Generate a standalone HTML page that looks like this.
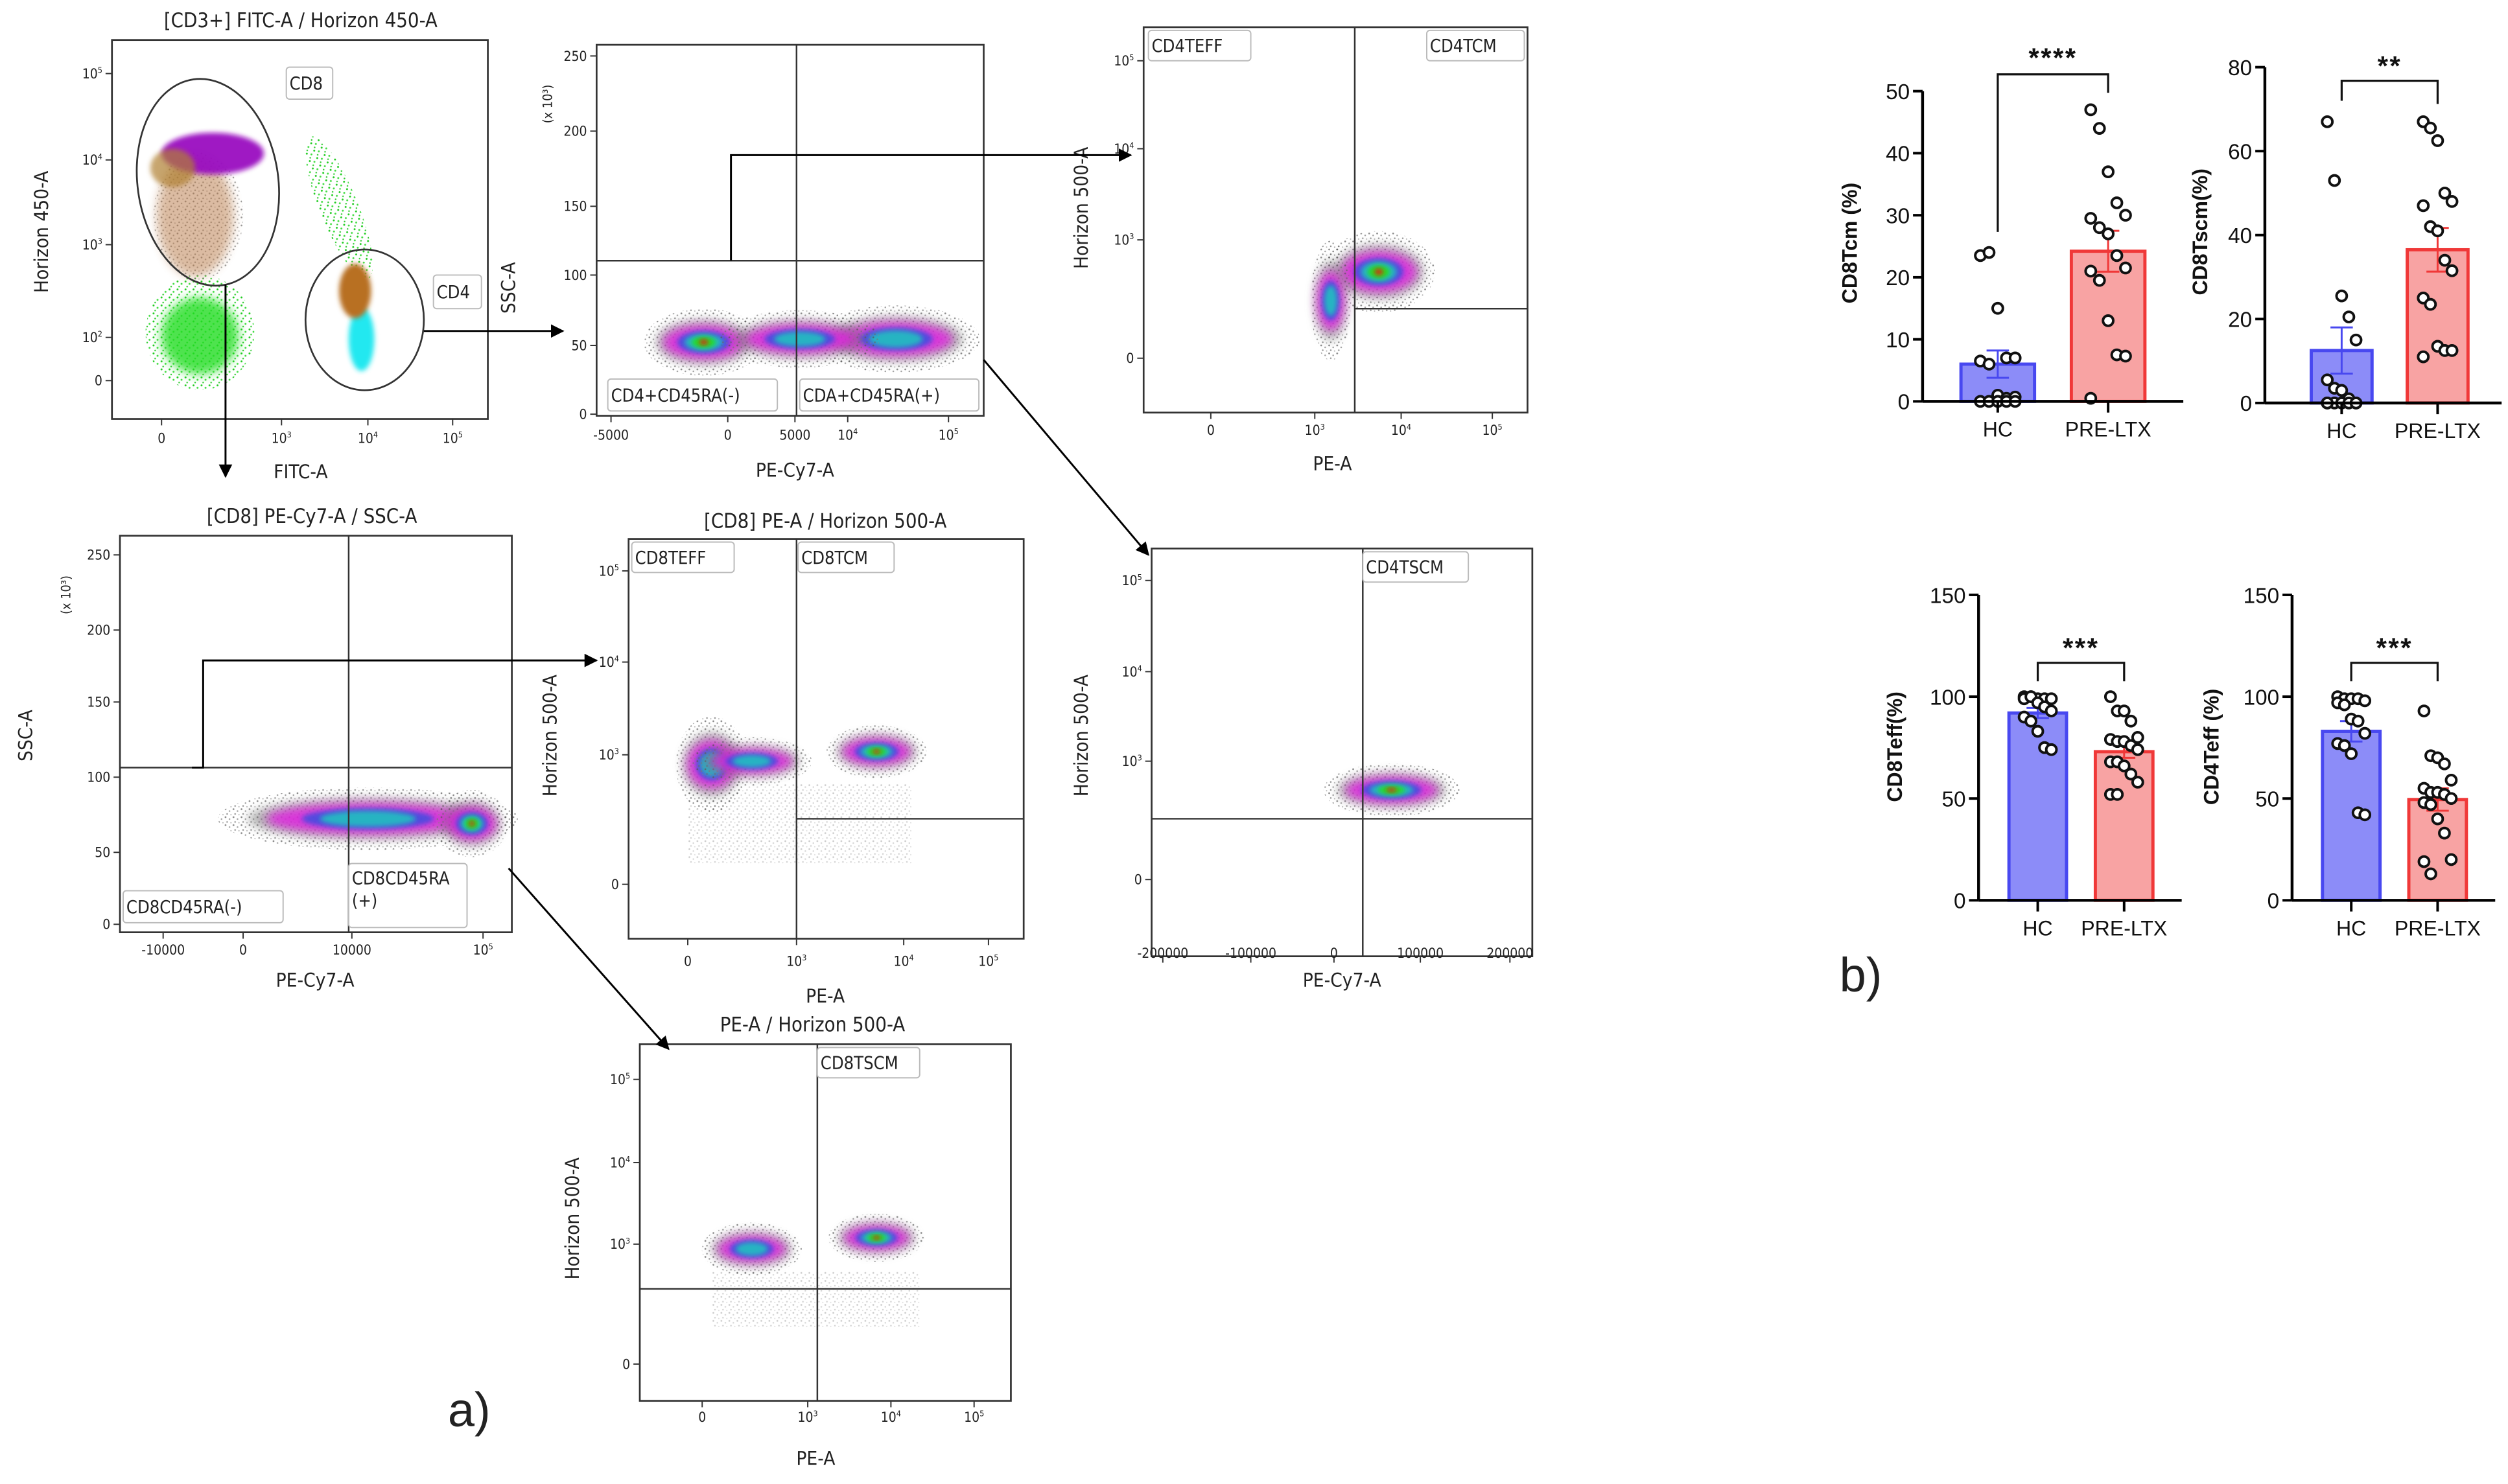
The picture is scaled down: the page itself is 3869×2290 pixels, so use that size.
<!DOCTYPE html>
<html><head><meta charset="utf-8">
<style>
html,body{margin:0;padding:0;background:#fff;}
svg{display:block;}
text{font-family:"Liberation Sans",sans-serif;}
.fl{font-family:"DejaVu Sans Condensed","Liberation Sans",sans-serif;}
</style></head>
<body>
<svg id="fig" xmlns="http://www.w3.org/2000/svg" width="3869" height="2290" viewBox="0 0 1568 928" preserveAspectRatio="none">
<defs>
<filter id="bl" x="-50%" y="-50%" width="200%" height="200%"><feGaussianBlur stdDeviation="3"/></filter>
<filter id="bl2" x="-50%" y="-50%" width="200%" height="200%"><feGaussianBlur stdDeviation="1.5"/></filter>
<pattern id="speck" width="5" height="5" patternUnits="userSpaceOnUse">
<circle cx="1" cy="1" r="0.55" fill="#555"/><circle cx="3.5" cy="2.2" r="0.5" fill="#777"/><circle cx="2" cy="4" r="0.5" fill="#666"/><circle cx="4.4" cy="4.5" r="0.4" fill="#888"/>
</pattern>
<pattern id="gspeck" width="5" height="5" patternUnits="userSpaceOnUse">
<circle cx="1" cy="1" r="0.6" fill="#2c2"/><circle cx="3.5" cy="2.5" r="0.6" fill="#4d4"/><circle cx="2" cy="4.2" r="0.5" fill="#3c3"/>
</pattern>
<marker id="ah" viewBox="0 0 10 10" refX="9" refY="5" markerWidth="7" markerHeight="7" orient="auto-start-reverse"><path d="M0,0 L10,5 L0,10 z" fill="#000"/></marker>
</defs>
</svg>
<script>
const NS='http://www.w3.org/2000/svg';
const svg=document.getElementById('fig');
function mk(tag,attrs,parent){const e=document.createElementNS(NS,tag);for(const k in attrs)e.setAttribute(k,attrs[k]);(parent||svg).appendChild(e);return e;}
function supText(g,str,x,y,size,anchor){
  const t=mk('text',{x:x,y:y,'font-size':size,'text-anchor':anchor,class:'fl',fill:'#222'},g);
  if(str.indexOf('^')>=0){const p=str.split('^');const a=mk('tspan',{},t);a.textContent=p[0];const b=mk('tspan',{'font-size':size*0.6,dy:-size*0.4},t);b.textContent=p[1];}
  else t.textContent=str;
  return t;
}

/* ---------------- Flow cytometry panels ---------------- */
const panels=[
 {name:'cd3-plot',box:[70,25,305,262],title:'[CD3+] FITC-A / Horizon 450-A',tx:188,ty:17,ylab:'Horizon 450-A',yx:30,yy:145,xlab:'FITC-A',xx:188,xy:299,
  yt:[['10^5',46],['10^4',100],['10^3',153],['10^2',211],['0',238]],xt:[['0',101],['10^3',176],['10^4',230],['10^5',283]],xly:277},
 {name:'cd4-ssc-plot',box:[373,28,615,260],title:'',ylab:'SSC-A',yx:322,yy:180,xlab:'PE-Cy7-A',xx:497,xy:298,unit:[345,65],
  yt:[['250',35],['200',82],['150',129],['100',172],['50',216],['0',259]],xt:[['-5000',382],['0',455],['5000',497],['10^4',530],['10^5',593]],xly:275},
 {name:'cd4-pe-plot',box:[715,17,955,258],title:'',ylab:'Horizon 500-A',yx:680,yy:130,xlab:'PE-A',xx:833,xy:294,
  yt:[['10^5',38],['10^4',93],['10^3',150],['0',224]],xt:[['0',757],['10^3',822],['10^4',876],['10^5',933]],xly:272},
 {name:'cd8-ssc-plot',box:[75,335,320,583],title:'[CD8] PE-Cy7-A / SSC-A',tx:195,ty:327,ylab:'SSC-A',yx:20,yy:460,xlab:'PE-Cy7-A',xx:197,xy:617,unit:[44,372],
  yt:[['250',347],['200',394],['150',439],['100',486],['50',533],['0',578]],xt:[['-10000',102],['0',152],['10000',220],['10^5',302]],xly:597},
 {name:'cd8-pe-plot',box:[393,337,640,587],title:'[CD8] PE-A / Horizon 500-A',tx:516,ty:330,ylab:'Horizon 500-A',yx:348,yy:460,xlab:'PE-A',xx:516,xy:627,
  yt:[['10^5',357],['10^4',414],['10^3',472],['0',553]],xt:[['0',430],['10^3',498],['10^4',565],['10^5',618]],xly:604},
 {name:'cd4-tscm-plot',box:[720,343,958,598],title:'',ylab:'Horizon 500-A',yx:680,yy:460,xlab:'PE-Cy7-A',xx:839,xy:617,
  yt:[['10^5',363],['10^4',420],['10^3',476],['0',550]],xt:[['-200000',727],['-100000',782],['0',834],['100000',888],['200000',944]],xly:599},
 {name:'cd8-tscm-plot',box:[400,653,632,876],title:'PE-A / Horizon 500-A',tx:508,ty:645,ylab:'Horizon 500-A',yx:362,yy:762,xlab:'PE-A',xx:510,xy:916,
  yt:[['10^5',675],['10^4',727],['10^3',778],['0',853]],xt:[['0',439],['10^3',505],['10^4',557],['10^5',609]],xly:889}
];

function blob(g,cx,cy,rx,ry,core){
  const b=mk('g',{},g);
  
  
  mk('ellipse',{cx:cx,cy:cy,rx:rx*1.25,ry:ry*1.5,fill:'url(#speck)',opacity:0.7},b);
  mk('ellipse',{cx:cx,cy:cy,rx:rx,ry:ry,fill:'#777',opacity:0.55,filter:'url(#bl)'},b);
  mk('ellipse',{cx:cx,cy:cy,rx:rx*0.85,ry:ry*0.75,fill:'#e020e0',opacity:0.85,filter:'url(#bl)'},b);
  mk('ellipse',{cx:cx,cy:cy,rx:rx*0.55,ry:ry*0.5,fill:'#3050e0',opacity:0.8,filter:'url(#bl2)'},b);
  mk('ellipse',{cx:cx,cy:cy,rx:rx*0.4,ry:ry*0.38,fill:'#20c0c0',opacity:0.9,filter:'url(#bl2)'},b);
  if(core){mk('ellipse',{cx:cx,cy:cy,rx:rx*0.25,ry:ry*0.25,fill:'#20e020',filter:'url(#bl2)'},b);
  mk('ellipse',{cx:cx,cy:cy,rx:rx*0.1,ry:ry*0.12,fill:'#e02010',filter:'url(#bl2)'},b);}
}

panels.forEach(p=>{
  const g=mk('g',{});
  
  
  const [x1,y1,x2,y2]=p.box;
  if(p.title){const t=mk('text',{x:p.tx,y:p.ty,'font-size':12.5,'text-anchor':'middle',class:'fl',fill:'#222'},g);t.textContent=p.title;
    }
  const r=mk('rect',{x:x1,y:y1,width:x2-x1,height:y2-y1,fill:'#fff',stroke:'#333','stroke-width':1.1},g);
  
  p.yt.forEach(([l,y])=>{mk('line',{x1:x1-4,y1:y,x2:x1,y2:y,stroke:'#333','stroke-width':0.8},g);
    const t=supText(g,l,x1-6,y+3,8.5,'end');});
  p.xt.forEach(([l,x])=>{mk('line',{x1:x,y1:y2,x2:x,y2:y2+4,stroke:'#333','stroke-width':0.8},g);
    const t=supText(g,l,x,p.xly,8.5,'middle');});
  const yl=mk('text',{x:p.yx,y:p.yy,'font-size':12,'text-anchor':'middle',class:'fl',fill:'#222',transform:`rotate(-90 ${p.yx} ${p.yy})`},g);
  yl.textContent=p.ylab;
  const xl=mk('text',{x:p.xx,y:p.xy,'font-size':12,'text-anchor':'middle',class:'fl',fill:'#222'},g);
  xl.textContent=p.xlab;
  if(p.unit){const u=mk('text',{x:p.unit[0],y:p.unit[1],'font-size':8,'text-anchor':'middle',class:'fl',fill:'#222',transform:`rotate(-90 ${p.unit[0]} ${p.unit[1]})`},g);
    u.textContent='(x 10³)';}
  p.g=g;
});

function qline(g,x1,y1,x2,y2){const l=mk('line',{x1:x1,y1:y1,x2:x2,y2:y2,stroke:'#333','stroke-width':1},g);
  }
function gateLabel(g,x,y,w,h,txt,txt2){
  const gg=mk('g',{},g);
  
  
  mk('rect',{x:x,y:y,width:w,height:h,rx:2,fill:'#fff',stroke:'#bbb','stroke-width':0.8},gg);
  const t=mk('text',{x:x+2,y:y+h*0.5+4,'font-size':11,class:'fl',fill:'#222'},gg);t.textContent=txt;
  if(txt2){t.setAttribute('y',y+13);const t2=mk('text',{x:x+2,y:y+27,'font-size':11,class:'fl',fill:'#222'},gg);t2.textContent=txt2;}
}
function arrow(pts){const a=mk('polyline',{points:pts,fill:'none',stroke:'#000','stroke-width':1.2,'marker-end':'url(#ah)'});
  }

/* panel 1 content */
{const g=panels[0].g;
 const s=mk('g',{},g);
 mk('ellipse',{cx:125,cy:208,rx:34,ry:36,fill:'url(#gspeck)'},s);
 mk('ellipse',{cx:125,cy:210,rx:24,ry:24,fill:'#22dd22',opacity:0.8,filter:'url(#bl)'},s);
 mk('ellipse',{cx:212,cy:130,rx:12,ry:48,fill:'url(#gspeck)',transform:'rotate(-22 212 130)'},s);
 mk('ellipse',{cx:124,cy:135,rx:28,ry:40,fill:'url(#speck)',opacity:0.6},s);
 mk('ellipse',{cx:122,cy:135,rx:24,ry:38,fill:'#b06a30',opacity:0.45,filter:'url(#bl)'},s);
 mk('ellipse',{cx:133,cy:96,rx:32,ry:13,fill:'#9a10c0',opacity:0.95,filter:'url(#bl2)'},s);
 mk('ellipse',{cx:108,cy:105,rx:14,ry:12,fill:'#b08030',opacity:0.7,filter:'url(#bl2)'},s);
 mk('ellipse',{cx:226,cy:212,rx:8,ry:20,fill:'#20e8f0',filter:'url(#bl2)'},s);
 mk('ellipse',{cx:222,cy:182,rx:10,ry:17,fill:'#b87020',filter:'url(#bl2)'},s);
 const e1=mk('ellipse',{cx:130,cy:114,rx:44,ry:65,fill:'none',stroke:'#333','stroke-width':1.1,transform:'rotate(-8 130 114)'},g);
 
 const e2=mk('ellipse',{cx:228,cy:200,rx:37,ry:44,fill:'none',stroke:'#333','stroke-width':1.1},g);
 
 gateLabel(g,179,42,29,20,'CD8');gateLabel(g,271,172,30,21,'CD4');}
/* panel 2 */
{const g=panels[1].g;blob(g,440,214,30,14,true);blob(g,560,212,42,14,false);blob(g,500,212,40,12,false);
 qline(g,498,28,498,260);qline(g,373,163,615,163);
 gateLabel(g,380,237,106,20,'CD4+CD45RA(-)');gateLabel(g,500,237,112,20,'CDA+CD45RA(+)');}
/* panel 3 */
{const g=panels[2].g;blob(g,862,170,28,17,true);blob(g,832,188,10,25,false);
 qline(g,847,17,847,258);qline(g,847,193,955,193);
 gateLabel(g,718,19,64,19,'CD4TEFF');gateLabel(g,892,19,61,19,'CD4TCM');}
/* panel 4 */
{const g=panels[3].g;blob(g,230,512,75,13,false);blob(g,295,515,18,14,true);
 qline(g,218,335,218,583);qline(g,75,480,320,480);
 gateLabel(g,77,557,100,20,'CD8CD45RA(-)');gateLabel(g,218,540,74,40,'CD8CD45RA','(+)');}
/* panel 5 */
{const g=panels[4].g;blob(g,445,478,18,20,false);blob(g,470,476,30,10,false);blob(g,548,470,25,11,true);
 mk('rect',{x:430,y:490,width:140,height:50,fill:'url(#speck)',opacity:0.3},g);
 qline(g,498,337,498,587);qline(g,498,512,640,512);
 gateLabel(g,395,339,64,19,'CD8TEFF');gateLabel(g,499,339,60,19,'CD8TCM');}
/* panel 6 */
{const g=panels[5].g;blob(g,870,494,34,11,true);
 qline(g,852,343,852,598);qline(g,720,512,958,512);
 gateLabel(g,852,345,66,19,'CD4TSCM');}
/* panel 7 */
{const g=panels[6].g;blob(g,470,781,25,11,false);blob(g,548,774,24,10,true);
 mk('rect',{x:445,y:795,width:130,height:35,fill:'url(#speck)',opacity:0.3},g);
 qline(g,511,653,511,876);qline(g,400,806,632,806);
 gateLabel(g,511,655,64,19,'CD8TSCM');}

arrow('141,178 141,298');
arrow('265,207 352,207');
arrow('457,163 457,97 707,97');
arrow('615,225 718,347');
arrow('120,480 127,480 127,413 373,413');
arrow('318,543 418,656');

const la=mk('text',{x:280,y:892,'font-size':30,fill:'#222'});la.textContent='a)';

const lb=mk('text',{x:1150,y:620,'font-size':30,fill:'#222'});lb.textContent='b)';


/* ---------------- Bar charts ---------------- */
const categories=['HC','PRE-LTX'];
const tcmHC=[23.5,24,15,7,7,6.5,6,1,0.5,0.7,0,0,0,0,0];
const tcmPRE=[47,44,37,32,30,29.5,28,27,23.5,21.5,21,19.5,13,7.5,7.3,0.5];
const tcmMean=[6,24.2];const tcmErr=[2.2,3.3];
const tscmHC=[67,53,25.5,20.5,15,5.5,3.5,3,1,0,0,0,0,0,0,0];
const tscmPRE=[67,65.5,62.5,50,48,47,42,41,34,31.5,25,23.5,13.5,12.5,12.5,11];
const tscmMean=[12.5,36.5];const tscmErr=[5.5,5.2];
const effHC=[100,100,99,99,99,99,100,97,95,93,90,88,83,75,74];
const effPRE=[100,93,93,88,80,79,78,78,76,74,68,68,66,62,58,52,52];
const effMean=[92,73];const effErr=[2.5,3];
const cd4HC=[100,99,99,99,98,97,96,89,88,82,77,76,72,43,42];
const cd4PRE=[93,71,70,67,59,55,53,53,52,50,48,47,40,33,20,19,13];
const cd4Mean=[83,49.5];const cd4Err=[5,5.5];
const yTicksA=[0,10,20,30,40,50];const yTicksB=[0,20,40,60,80];const yTicksC=[0,50,100,150];

const charts=[
 {name:'cd8tcm-chart',ax:1202,x0:1202,xEnd:1365,y0:251,yTop:57,max:50,ticks:yTicksA,cx:[1249,1318],bw:46,
  hc:tcmHC,pre:tcmPRE,mean:tcmMean,err:tcmErr,ylab:'CD8Tcm (%)',ylx:1161,yly:152,stars:'****',brY:46.5,brL:145,brR:58,sy:36},
 {name:'cd8tscm-chart',ax:1416,x0:1416,xEnd:1564,y0:252,yTop:42,max:80,ticks:yTicksB,cx:[1464,1524],bw:38,
  hc:tscmHC,pre:tscmPRE,mean:tscmMean,err:tscmErr,ylab:'CD8Tscm(%)',ylx:1380,yly:145,stars:'**',brY:50.5,brL:63,brR:65,sy:41},
 {name:'cd8teff-chart',ax:1237,x0:1237,xEnd:1364,y0:563,yTop:372,max:150,ticks:yTicksC,cx:[1274,1328],bw:36,
  hc:effHC,pre:effPRE,mean:effMean,err:effErr,ylab:'CD8Teff(%)',ylx:1189,yly:467,stars:'***',brY:414.5,brL:426,brR:426,sy:405},
 {name:'cd4teff-chart',ax:1433,x0:1433,xEnd:1560,y0:563,yTop:372,max:150,ticks:yTicksC,cx:[1470,1524],bw:36,
  hc:cd4HC,pre:cd4PRE,mean:cd4Mean,err:cd4Err,ylab:'CD4Teff (%)',ylx:1387,yly:467,stars:'***',brY:414.5,brL:426,brR:426,sy:405}
];
const fillC=['#8c8cf8','#f8a3a3'],strokeC=['#4848f0','#f03838'];

charts.forEach(c=>{
  const g=mk('g',{});
  
  
  const Y=v=>c.y0-v/c.max*(c.y0-c.yTop);
  [0,1].forEach(i=>{
    const b=mk('rect',{x:c.cx[i]-c.bw/2,y:Y(c.mean[i]),width:c.bw,height:c.y0-Y(c.mean[i]),fill:fillC[i],stroke:strokeC[i],'stroke-width':2},g);
    
    
    const e=mk('path',{d:`M${c.cx[i]} ${Y(c.mean[i]-c.err[i])} V${Y(c.mean[i]+c.err[i])} M${c.cx[i]-7} ${Y(c.mean[i]+c.err[i])} H${c.cx[i]+7} M${c.cx[i]-7} ${Y(c.mean[i]-c.err[i])} H${c.cx[i]+7}`,stroke:strokeC[i],'stroke-width':1.2,fill:'none'},g);
    
    
  });
  [c.hc,c.pre].forEach((arr,i)=>{
    arr.forEach((v,k)=>{
      const off=((k%5)-2)*5.2*(c.bw/44);
      const pt=mk('circle',{cx:c.cx[i]+off,cy:Y(v),r:3.2,fill:'#fff',stroke:'#111','stroke-width':1.6},g);
      
      
    });
  });
  const ya=mk('line',{x1:c.ax,y1:c.yTop,x2:c.ax,y2:c.y0,stroke:'#000','stroke-width':1.8},g);
  
  const xa=mk('line',{x1:c.ax,y1:c.y0,x2:c.xEnd,y2:c.y0,stroke:'#000','stroke-width':1.8},g);
  
  c.ticks.forEach(v=>{mk('line',{x1:c.ax-6,y1:Y(v),x2:c.ax,y2:Y(v),stroke:'#000','stroke-width':1.6},g);
    const t=mk('text',{x:c.ax-8,y:Y(v)+5,'font-size':13.5,'text-anchor':'end',fill:'#111'},g);
    t.textContent=v;});
  [0,1].forEach(i=>{mk('line',{x1:c.cx[i],y1:c.y0,x2:c.cx[i],y2:c.y0+7,stroke:'#000','stroke-width':1.6},g);
    const t=mk('text',{x:c.cx[i],y:c.y0+22,'font-size':13,'text-anchor':'middle',fill:'#111'},g);
    t.textContent=categories[i];});
  const yl=mk('text',{x:c.ylx,y:c.yly,'font-size':13,'font-weight':'bold','text-anchor':'middle',fill:'#111',transform:`rotate(-90 ${c.ylx} ${c.yly})`},g);
  yl.textContent=c.ylab;
  const br=mk('path',{d:`M${c.cx[0]} ${c.brL} V${c.brY} H${c.cx[1]} V${c.brR}`,fill:'none',stroke:'#111','stroke-width':1.3},g);
  
  const st=mk('text',{x:(c.cx[0]+c.cx[1])/2,y:c.sy+6,'font-size':17,'font-weight':'bold','text-anchor':'middle',fill:'#111','letter-spacing':1},g);
  st.textContent=c.stars;
});
</script>
</body></html>
